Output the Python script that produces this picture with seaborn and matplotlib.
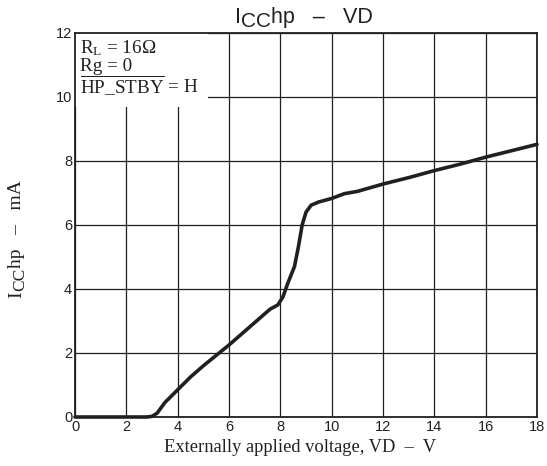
import matplotlib
matplotlib.use("Agg")
import matplotlib.pyplot as plt
import seaborn as sns
import pandas as pd

vd = [0, 1, 2, 2.8, 3.0, 3.2, 3.5, 4.0, 4.5, 5.0, 6.0, 7.0, 7.6, 7.9, 8.1, 8.3,
      8.55, 8.7, 8.85, 9.0, 9.2, 9.5, 10.0, 10.5, 11, 12, 13, 14, 15, 16, 17, 18]
icc = [0, 0, 0, 0, 0.02, 0.12, 0.45, 0.85, 1.25, 1.6, 2.25, 2.95, 3.37, 3.5, 3.75, 4.2,
       4.7, 5.3, 6.0, 6.4, 6.62, 6.72, 6.83, 6.98, 7.05, 7.28, 7.48, 7.7, 7.9, 8.12, 8.32, 8.52]
xticks = [0, 2, 4, 6, 8, 10, 12, 14, 16, 18]
yticks = [0, 2, 4, 6, 8, 10, 12]

sns.set_style("white")
plt.rcParams["font.family"] = ["Liberation Sans", "DejaVu Sans"]
plt.rcParams["mathtext.fontset"] = "custom"
plt.rcParams["mathtext.rm"] = "Liberation Serif"
plt.rcParams["mathtext.it"] = "Liberation Serif:italic"

INK = "#231f20"
sans = ["Liberation Sans", "DejaVu Sans"]
serif = ["Liberation Serif", "DejaVu Serif"]

fig = plt.figure(figsize=(5.47, 4.66), dpi=100)
ax = fig.add_axes([75/547, 49/466, 462/547, 384/466])

df = pd.DataFrame({"VD": vd, "ICC": icc})
sns.lineplot(data=df, x="VD", y="ICC", ax=ax, color=INK, lw=2.6, clip_on=False, zorder=5)

ax.set_xlim(0, 18)
ax.set_ylim(0, 12)
ax.set_xticks(xticks)
ax.set_yticks(yticks)
ax.tick_params(axis="both", length=0, labelsize=10.5, pad=2, colors=INK)
for lab in ax.get_xticklabels() + ax.get_yticklabels():
    lab.set_family(sans)
ax.grid(True, color=INK, lw=0.9)
for s in ax.spines.values():
    s.set_color(INK)
    s.set_linewidth(1.3)
    s.set_zorder(3)

ax.set_ylabel("")
ax.set_xlabel("Externally applied voltage, VD  \u2013  V", family=serif, fontsize=13.3,
              color=INK)
ax.xaxis.set_label_coords(0.487, -0.058)


def chain_pieces_h(pieces, x, y, family):
    prev = None
    prev_sh = 0
    for s, fs, sh in pieces:
        if prev is None:
            prev = fig.text(x, y, s, family=family, fontsize=fs, color=INK,
                            ha="left", va="bottom")
        else:
            prev = ax.annotate(s, xy=(1, 0), xycoords=prev, xytext=(0, prev_sh - sh),
                               textcoords="offset points", family=family,
                               fontsize=fs, color=INK, ha="left", va="bottom",
                               annotation_clip=False)
        prev_sh = sh


def chain_pieces_v(pieces, x, y, family):
    prev = None
    prev_sh = 0
    for s, fs, sh in pieces:
        if prev is None:
            prev = fig.text(x, y, s, family=family, fontsize=fs, color=INK,
                            ha="right", va="bottom", rotation=90)
        else:
            prev = ax.annotate(s, xy=(1, 1), xycoords=prev, xytext=(sh - prev_sh, 0),
                               textcoords="offset points", family=family,
                               fontsize=fs, color=INK, ha="right", va="bottom",
                               rotation=90, annotation_clip=False)
        prev_sh = sh


# title: I_CC hp - VD
chain_pieces_h([("I", 15.5, 0), ("CC", 15, 2.5), ("hp   \u2013   VD", 15.5, 0)],
               235/547, (466-28)/466, sans)

# y label: I_CC hp - mA (rotated)
chain_pieces_v([("I", 14, 0), ("CC", 12.5, 2.0), ("hp   \u2013   mA", 14, 0)],
               25/547, (466-298)/466, serif)

txt = "R$_{\\mathrm{L}}$ = 16\u03a9\nRg = 0\n$\\overline{\\mathrm{HP\\_STBY}}$ = H"
ax.text(0.2, 11.82, txt, family=serif, fontsize=13.8, va="top", ha="left",
        linespacing=0.93, zorder=1, color=INK,
        bbox=dict(facecolor="white", edgecolor="none", pad=6.5))

fig.savefig("out.png", dpi=100)
